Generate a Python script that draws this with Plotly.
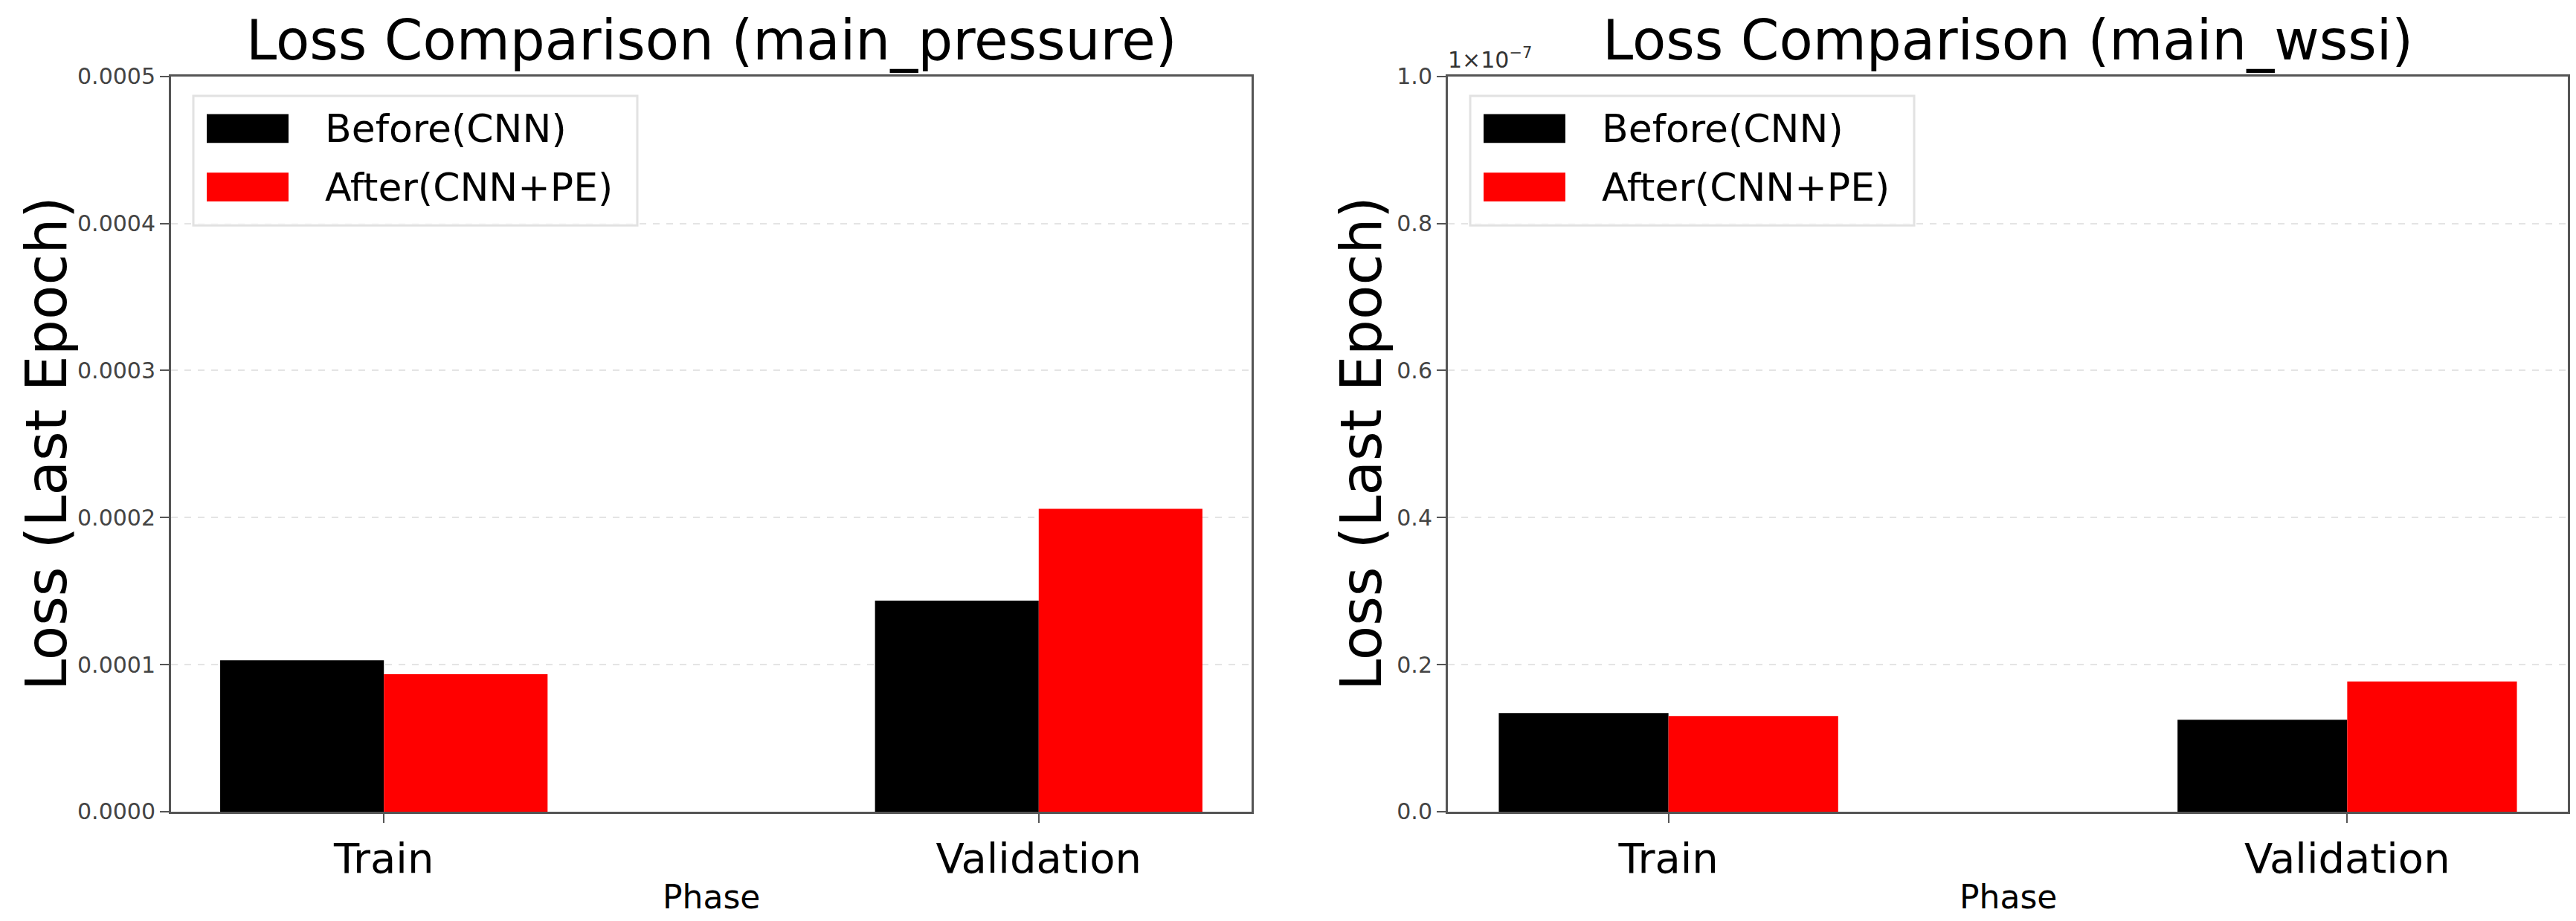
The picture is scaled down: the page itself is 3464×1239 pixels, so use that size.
import plotly.graph_objects as go
from plotly.subplots import make_subplots

# data
phases = ["Train", "Validation"]
series_names = ["Before(CNN)", "After(CNN+PE)"]
series_colors = ["#000000", "#ff0000"]

pressure_before = [1.03e-4, 1.435e-4]
pressure_after = [0.935e-4, 2.06e-4]
wssi_before = [1.34e-8, 1.25e-8]
wssi_after = [1.30e-8, 1.77e-8]

titles = ["Loss Comparison (main_pressure)", "Loss Comparison (main_wssi)"]
pressure_ticks = [0, 1e-4, 2e-4, 3e-4, 4e-4, 5e-4]
wssi_ticks = [0, 2e-8, 4e-8, 6e-8, 8e-8, 1e-7]
wssi_ticktext = ["0.0", "0.2", "0.4", "0.6", "0.8", "1.0"]

W, H = 3464, 1239
FONT = "DejaVu Sans"

fig = make_subplots(rows=1, cols=2)

panels = [(pressure_before, pressure_after), (wssi_before, wssi_after)]
for col, (before, after) in enumerate(panels, start=1):
    for name, vals, color in zip(series_names, [before, after], series_colors):
        fig.add_trace(go.Bar(x=phases, y=vals, name=name, marker_color=color,
                             marker_line_width=0, showlegend=False), row=1, col=col)

# plot areas in pixels (left, right), shared top/bottom
px_left = [(222, 1675), (1939, 3445)]
px_top, px_bottom = 80, 1097
ydom = [(H - px_bottom) / H, (H - px_top) / H]

axis_common = dict(showline=True, mirror=True, linecolor="#555555", linewidth=3,
                   ticks="outside", ticklen=12, tickwidth=2, tickcolor="#555555",
                   zeroline=False)

fig.update_layout(
    width=W, height=H,
    margin=dict(l=0, r=0, t=0, b=0),
    paper_bgcolor="white", plot_bgcolor="white",
    font=dict(family=FONT, color="black"),
    barmode="group", bargap=0.5, bargroupgap=0,
    xaxis=dict(domain=[px_left[0][0] / W, px_left[0][1] / W], range=[-0.325, 1.325],
               showgrid=False, tickfont=dict(size=56), **axis_common),
    xaxis2=dict(domain=[px_left[1][0] / W, px_left[1][1] / W], range=[-0.325, 1.325],
                showgrid=False, tickfont=dict(size=56), **axis_common),
    yaxis=dict(domain=ydom, range=[0, 5e-4], tickvals=pressure_ticks, tickformat=".4f",
               tickfont=dict(size=30, color="#444444"), showgrid=True,
               gridcolor="#e4e4e4", gridwidth=2, griddash="dash", **axis_common),
    yaxis2=dict(domain=ydom, range=[0, 1e-7], tickvals=wssi_ticks, ticktext=wssi_ticktext,
                tickfont=dict(size=30, color="#444444"), showgrid=True,
                gridcolor="#e4e4e4", gridwidth=2, griddash="dash", **axis_common),
)

# titles, y labels, x labels
for i, (l, r) in enumerate(px_left):
    fig.add_annotation(text=titles[i], xref="paper", yref="paper",
                       x=(l + r) / 2 / W, y=(H - px_top + 4) / H,
                       xanchor="center", yanchor="bottom", showarrow=False, borderpad=0,
                       font=dict(size=74, family=FONT, color="black"))
    ylab_x = [54, 1822][i]
    fig.add_annotation(text="Loss (Last Epoch)", textangle=-90, xref="paper", yref="paper",
                       x=ylab_x / W, y=(H - (px_top + px_bottom) / 2) / H,
                       xanchor="center", yanchor="middle", showarrow=False, borderpad=0,
                       font=dict(size=76, family=FONT, color="black"))
    fig.add_annotation(text="Phase", xref="paper", yref="paper",
                       x=(l + r) / 2 / W, y=(H - 1188) / H, xanchor="center", yanchor="top",
                       showarrow=False, borderpad=0,
                       font=dict(size=44, family=FONT, color="black"))

# offset text of the right y axis
fig.add_annotation(text="1\u00d710<sup>\u22127</sup>", xref="paper", yref="paper",
                   x=1938 / W, y=(H - 76) / H, xanchor="left", yanchor="bottom",
                   showarrow=False, borderpad=0,
                   font=dict(size=30, family=FONT, color="#333333"))

# legend drawn in each panel (pixel offsets from plot top-left)
for i, (l, r) in enumerate(px_left):
    pw = r - l
    ph = px_bottom - px_top
    xr = "x domain" if i == 0 else "x2 domain"
    yr = "y domain" if i == 0 else "y2 domain"

    def fx(px):
        return px / pw

    def fy(py):
        return (ph - py) / ph

    fig.add_shape(type="rect", xref=xr, yref=yr, x0=fx(30), x1=fx(627), y0=fy(206), y1=fy(27),
                  line=dict(color="#e2e2e2", width=3), fillcolor="rgba(255,255,255,0.8)",
                  layer="above")
    for k, (name, color) in enumerate(zip(series_names, series_colors)):
        cy = 72 + k * 81
        fig.add_shape(type="rect", xref=xr, yref=yr, x0=fx(48), x1=fx(158),
                      y0=fy(cy + 20), y1=fy(cy - 20), fillcolor=color, line_width=0,
                      layer="above")
        fig.add_annotation(text=name, xref=xr, yref=yr, x=fx(205), y=fy(cy),
                           xanchor="left", yanchor="middle", showarrow=False,
                           font=dict(size=52, family=FONT, color="black"))

fig.write_html("out.html")
